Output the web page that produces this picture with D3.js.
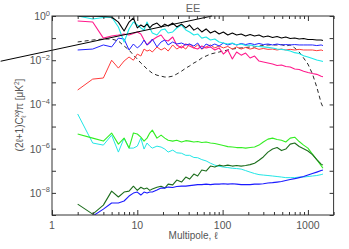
<!DOCTYPE html>
<html><head><meta charset="utf-8">
<script src="https://cdn.jsdelivr.net/npm/d3@7"></script>
<style>
body{margin:0;background:#fff}
svg{display:block}
text{font-family:"Liberation Sans",Arial,Helvetica,sans-serif}
</style>
</head><body>
<svg id="chart" width="349" height="249"></svg>
<script>
// ---------- data ----------
const ell = [2,3,4,5,6,7,8,9,10,11,12,13,14,15,17,19,21,23,26,29,33,37,41,46,51,57,64,72,81,91,102,115,130,146,165,186,210,237,267,300,340,385,435,490,550,620,700,790,890,1000,1130,1270,1430,1500];

const blackTotal = [0.97,0.97,0.95,0.9,0.53,0.21,0.53,0.81,0.29,0.39,0.32,0.43,0.29,0.39,
  0.48,0.32,0.43,0.35,0.48,0.32,0.43,0.29,0.39,0.23,
  0.29,0.19,0.26,0.17,0.21,0.154,0.19,0.138,0.17,0.138,
  0.154,0.124,0.146,0.124,0.138,0.112,0.124,0.106,0.118,0.101,
  0.112,0.096,0.101,0.091,0.096,0.087,0.087,0.082,0.082,0.078];

const cmbModel = [0.067,0.082,0.091,0.091,0.074,0.044,0.029,0.017,0.0113,0.0075,0.0055,0.004,0.0032,0.0026,
  0.0021,0.0019,0.00174,0.00174,0.0019,0.00237,0.0032,0.0044,0.0055,0.0075,
  0.0092,0.0126,0.0155,0.019,0.0212,0.0235,0.026,0.029,0.032,0.034,
  0.036,0.0376,0.0396,0.0396,0.044,0.046,0.049,0.049,0.049,0.051,
  0.044,0.049,0.036,0.0235,0.0126,0.0067,0.0024,0.00061,0.000116,0.000076];

const redSeries = [4.5e-4,1.4e-3,1.57e-3,1.0e-2,4.4e-3,9.2e-3,1.4e-2,1.0e-2,1.9e-2,1.55e-2,3.2e-2,2.6e-2,2.9e-2,2.35e-2,
  3.96e-2,2.9e-2,3.6e-2,2.6e-2,4.9e-2,3.2e-2,4.4e-2,3.2e-2,5.4e-2,3.6e-2,
  4.9e-2,3.2e-2,4.0e-2,4.9e-2,3.6e-2,4.4e-2,3.6e-2,4.2e-2,3.2e-2,4.0e-2,
  3.2e-2,3.8e-2,3.2e-2,3.6e-2,3.1e-2,3.4e-2,3.1e-2,3.2e-2,2.9e-2,3.2e-2,
  2.9e-2,3.1e-2,2.9e-2,3.1e-2,2.9e-2,2.9e-2,2.9e-2,2.7e-2,2.9e-2,2.7e-2];

const pinkSeries = [0.59,0.535,0.1,0.124,0.138,0.154,0.138,0.16,0.19,0.154,0.082,0.049,0.067,0.082,
  0.112,0.138,0.082,0.074,0.112,0.049,0.036,0.054,0.044,0.036,
  0.032,0.044,0.036,0.04,0.029,0.036,0.019,0.029,0.0113,0.0235,
  0.017,0.021,0.0126,0.0155,0.0092,0.0083,0.0075,0.0067,0.0058,0.0061,
  0.0052,0.0049,0.004,0.0038,0.0032,0.0028,0.0025,0.0023,0.0019,0.0018];

const blueUpper = [0.029,0.032,0.049,0.04,0.1,0.091,0.029,0.054,0.036,0.049,0.082,0.049,0.06,0.091,
  0.04,0.067,0.082,0.049,0.067,0.054,0.06,0.049,0.054,0.044,
  0.06,0.032,0.054,0.044,0.054,0.044,0.06,0.049,0.057,0.049,
  0.057,0.051,0.057,0.051,0.057,0.051,0.054,0.049,0.054,0.049,
  0.051,0.049,0.051,0.049,0.049,0.049,0.049,0.046,0.049,0.046];

const cyanUpper = [1.0,0.73,0.85,0.9,0.318,0.067,0.26,0.535,0.39,0.287,0.233,0.535,0.287,0.17,
  0.138,0.233,0.26,0.17,0.19,0.287,0.39,0.233,0.19,0.138,
  0.154,0.1,0.112,0.082,0.091,0.067,0.06,0.054,0.06,0.049,
  0.054,0.046,0.049,0.044,0.042,0.04,0.038,0.036,0.032,0.031,
  0.029,0.026,0.022,0.02,0.016,0.014,0.012,0.0102,0.0092,0.0087];

const greenLower = [4.6e-6,3.0e-6,2.2e-6,5.1e-6,1.6e-6,3.0e-6,1.06e-6,5.1e-6,4.6e-6,3.3e-6,2.2e-6,3.0e-6,5.1e-6,6.9e-6,
  3.0e-6,4.1e-6,3.0e-6,2.4e-6,2.2e-6,2.4e-6,2.0e-6,2.3e-6,2.2e-6,2.0e-6,
  2.1e-6,1.9e-6,2.0e-6,1.8e-6,1.7e-6,1.53e-6,1.38e-6,1.24e-6,1.18e-6,1.12e-6,
  1.12e-6,1.06e-6,1.12e-6,1.18e-6,1.45e-6,2.0e-6,2.7e-6,3.0e-6,2.6e-6,2.4e-6,
  2.0e-6,3.0e-6,3.3e-6,2.1e-6,1.45e-6,1.06e-6,5.7e-7,3.2e-7,1.7e-7,1.3e-7];

const cyanLower = [3.7e-5,1.8e-6,1.45e-6,4.1e-6,7.0e-7,3.0e-6,1.06e-6,1.06e-6,1.3e-6,3.0e-6,9.6e-7,1.8e-6,1.3e-6,1.06e-6,
  1.3e-6,1.18e-6,9.6e-7,7.0e-7,8.6e-7,6.5e-7,6.2e-7,5.0e-7,5.0e-7,4.0e-7,
  3.9e-7,3.2e-7,2.8e-7,2.2e-7,1.8e-7,1.6e-7,1.47e-7,1.4e-7,1.3e-7,1.26e-7,
  1.19e-7,1.02e-7,8.7e-8,7.5e-8,6.7e-8,6.4e-8,6.1e-8,5.8e-8,5.5e-8,5.2e-8,
  4.9e-8,4.9e-8,4.9e-8,5.2e-8,5.2e-8,5.5e-8,5.8e-8,6.1e-8,6.7e-8,7.1e-8];

const darkGreenLower = [3.1e-9,1.1e-9,2.8e-9,1.2e-8,6.5e-9,1.09e-8,1.2e-8,2.0e-8,1.3e-8,1.8e-8,1.5e-8,1.65e-8,1.3e-8,1.5e-8,
  1.8e-8,2.0e-8,1.65e-8,2.5e-8,2.3e-8,3.8e-8,3.1e-8,5.2e-8,4.2e-8,7.1e-8,
  5.8e-8,1.08e-7,9.7e-8,1.63e-7,1.47e-7,1.8e-7,1.63e-7,1.8e-7,1.63e-7,1.72e-7,
  1.63e-7,1.72e-7,1.9e-7,2.2e-7,3.0e-7,4.2e-7,7.0e-7,9.6e-7,1.12e-6,8.2e-7,
  9.6e-7,1.6e-6,1.8e-6,1.25e-6,1.0e-6,7.8e-7,5.4e-7,3.2e-7,2.0e-7,1.8e-7];

const blueLower = [3.0e-10,8.9e-10,1.85e-9,3.5e-9,3.5e-9,4.3e-9,7.2e-9,9.8e-9,1.09e-8,8.0e-9,1.09e-8,9.8e-9,1.09e-8,1.09e-8,
  1.34e-8,1.65e-8,1.65e-8,1.83e-8,1.74e-8,1.93e-8,2.03e-8,2.03e-8,2.14e-8,2.25e-8,
  2.37e-8,2.37e-8,2.5e-8,2.37e-8,2.5e-8,2.5e-8,2.6e-8,2.5e-8,2.6e-8,2.5e-8,
  2.37e-8,2.37e-8,2.37e-8,2.5e-8,2.5e-8,2.6e-8,2.8e-8,2.9e-8,3.08e-8,3.25e-8,
  3.6e-8,4.0e-8,4.4e-8,4.9e-8,5.5e-8,6.4e-8,7.5e-8,8.7e-8,1.02e-7,1.08e-7];

// power-law reference line (two end points)
const powerEll = [0.25, 75];
const powerVal = [9.0e-3, 1.0];

const xTickValues = [1, 10, 100, 1000];
const xTickLabels = ["1", "10", "100", "1000"];
const yTickValues = [1e0, 1e-2, 1e-4, 1e-6, 1e-8];
const yTickExponents = ["0", "\u22122", "\u22124", "\u22126", "\u22128"];

// ---------- layout ----------
const svg = d3.select("#chart");
const L = 52, R = 333.6, T = 16, B = 215;
const x = d3.scaleLog().domain([1, 2000]).range([L, R]);
const y = d3.scaleLog().domain([1e-9, 1]).range([B, T]);

svg.append("defs").append("clipPath").attr("id", "plotclip")
  .append("rect").attr("x", L).attr("y", T).attr("width", R - L).attr("height", B - T);

const line = d3.line().x(d => x(d[0])).y(d => y(d[1]));
const pairs = vals => ell.map((l, i) => [l, vals[i]]);

const g = svg.append("g").attr("clip-path", "url(#plotclip)");

const series = [
  {v: cyanLower, c: "#22e6e6", w: 1},
  {v: greenLower, c: "#33ee22", w: 1.1},
  {v: darkGreenLower, c: "#1e6e1e", w: 1.1},
  {v: blueLower, c: "#1a1aff", w: 1.1},
  {v: cmbModel, c: "#111", w: 0.9, dash: "4,3"},
  {v: redSeries, c: "#ff3b3b", w: 1},
  {v: pinkSeries, c: "#ff1a8c", w: 1.1},
  {v: blueUpper, c: "#2222ff", w: 1},
  {v: cyanUpper, c: "#1ee8e8", w: 1.1},
  {v: blackTotal, c: "#000", w: 1.1}
];
series.forEach(s => {
  g.append("path").datum(pairs(s.v))
    .attr("d", line).attr("fill", "none")
    .attr("stroke", s.c).attr("stroke-width", s.w)
    .attr("stroke-dasharray", s.dash || null)
    .attr("stroke-linejoin", "round");
});

// power law line (extends past left axis)
svg.append("path").datum(powerEll.map((l, i) => [l, powerVal[i]]))
  .attr("d", line).attr("fill", "none").attr("stroke", "#000").attr("stroke-width", 1);

// ---------- axes ----------
const axisColor = "#333";
const minorX = [];
[1, 10, 100, 1000].forEach(d => { for (let k = 2; k <= 9; k++) if (d * k <= 2000) minorX.push(d * k); });
const decadesY = d3.range(-9, 1).map(e => Math.pow(10, e));

function styleAxis(sel) {
  sel.select(".domain").remove();
  sel.selectAll("line").attr("stroke", axisColor);
  sel.selectAll("text").remove();
}
svg.append("g").attr("transform", `translate(0,${B})`)
  .call(d3.axisBottom(x).tickValues(xTickValues).tickSize(-5).tickFormat("")).call(styleAxis);
svg.append("g").attr("transform", `translate(0,${B})`)
  .call(d3.axisBottom(x).tickValues(minorX).tickSize(-3).tickFormat("")).call(styleAxis);
svg.append("g").attr("transform", `translate(0,${T})`)
  .call(d3.axisTop(x).tickValues(xTickValues).tickSize(-5).tickFormat("")).call(styleAxis);
svg.append("g").attr("transform", `translate(0,${T})`)
  .call(d3.axisTop(x).tickValues(minorX).tickSize(-3).tickFormat("")).call(styleAxis);
svg.append("g").attr("transform", `translate(${L},0)`)
  .call(d3.axisLeft(y).tickValues(decadesY).tickSize(-4).tickFormat("")).call(styleAxis);
svg.append("g").attr("transform", `translate(${R},0)`)
  .call(d3.axisRight(y).tickValues(decadesY).tickSize(-4).tickFormat("")).call(styleAxis);

svg.append("rect").attr("x", L).attr("y", T).attr("width", R - L).attr("height", B - T)
  .attr("fill", "none").attr("stroke", axisColor).attr("stroke-width", 1);

// tick labels
const labColor = "#555";
xTickValues.forEach((v, i) => {
  svg.append("text").attr("x", x(v)).attr("y", 229).attr("text-anchor", "middle")
    .attr("font-size", 10.5).attr("fill", labColor).text(xTickLabels[i]);
});
yTickValues.forEach((v, i) => {
  const t = svg.append("text").attr("x", 50).attr("y", y(v) + 4).attr("text-anchor", "end")
    .attr("font-size", 10.5).attr("fill", labColor);
  t.append("tspan").text("10");
  t.append("tspan").attr("dy", -4.5).attr("font-size", 7.5).text(yTickExponents[i]);
});

// titles
svg.append("text").attr("x", 193).attr("y", 12).attr("text-anchor", "middle")
  .attr("font-size", 11).attr("fill", "#666").text("EE");
svg.append("text").attr("x", 193).attr("y", 239).attr("text-anchor", "middle")
  .attr("font-size", 10).attr("fill", labColor).text("Multipole, \u2113");

const yl = svg.append("text").attr("transform", "translate(23,115) rotate(-90)")
  .attr("text-anchor", "middle").attr("font-size", 10).attr("fill", labColor);
yl.append("tspan").text("(2\u2113+1)C");
yl.append("tspan").attr("font-size", 6.5).attr("dy", -4).text("xx");
yl.append("tspan").attr("font-size", 6.5).attr("dx", -7).attr("dy", 7).text("\u2113");
yl.append("tspan").attr("dy", -3).attr("dx", 3).text("/\u03c0  [\u03bcK");
yl.append("tspan").attr("font-size", 6.5).attr("dy", -4).text("2");
yl.append("tspan").attr("dy", 4).text("]");
</script>
</body></html>
